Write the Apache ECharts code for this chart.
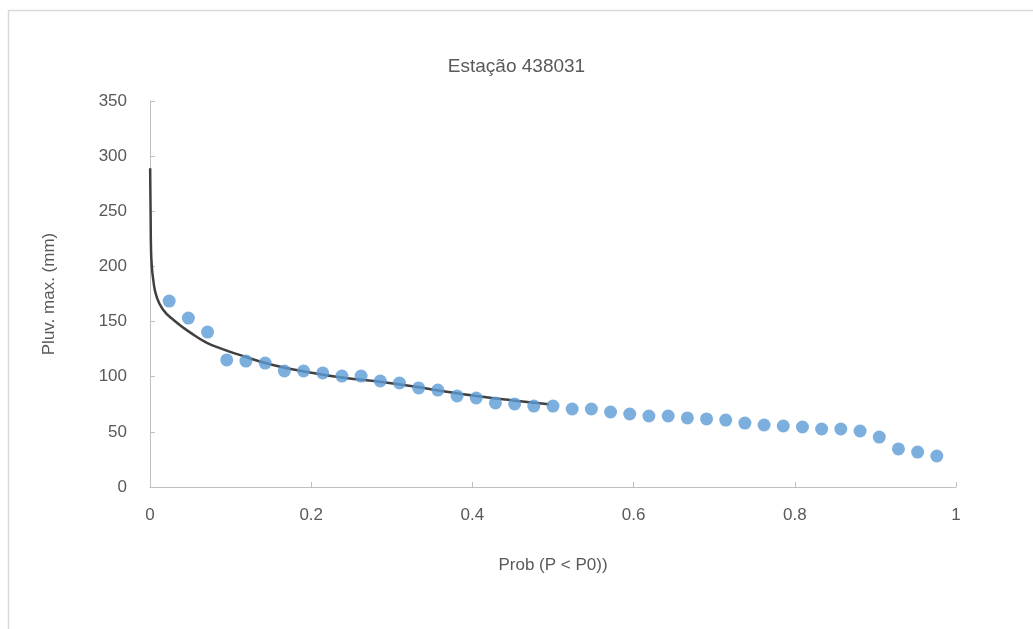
<!DOCTYPE html>
<html>
<head>
<meta charset="utf-8">
<script src="https://cdn.jsdelivr.net/npm/echarts@6/dist/echarts.min.js"></script>
<style>html,body{margin:0;padding:0;background:#fff;}#c{width:1033px;height:629px;}</style>
</head>
<body>
<div id="c"></div>
<script>
// Observed data (plotting positions and max rainfall)
var probObs = [0.0238, 0.0476, 0.0714, 0.0952, 0.119, 0.1429, 0.1667, 0.1905, 0.2143, 0.2381,
  0.2619, 0.2857, 0.3095, 0.3333, 0.3571, 0.381, 0.4048, 0.4286, 0.4524, 0.4762,
  0.5, 0.5238, 0.5476, 0.5714, 0.5952, 0.619, 0.6429, 0.6667, 0.6905, 0.7143,
  0.7381, 0.7619, 0.7857, 0.8095, 0.8333, 0.8571, 0.881, 0.9048, 0.9286, 0.9524, 0.9762];
var pluvObs = [168.6, 153.2, 140.5, 115.2, 114.2, 112.4, 105.2, 105.2, 103.4, 100.6,
  100.6, 96.1, 94.3, 89.8, 87.9, 82.5, 80.7, 76.2, 75.3, 73.4,
  73.4, 70.7, 70.7, 68.0, 66.2, 64.4, 64.4, 62.6, 61.7, 60.7,
  58.0, 56.2, 55.3, 54.4, 52.6, 52.6, 50.8, 45.3, 34.5, 31.7, 28.1];
// Fitted curve
var probFit = [0.0002, 0.0004, 0.0008, 0.0012, 0.002, 0.004, 0.008, 0.016, 0.03, 0.05,
  0.07, 0.09, 0.11, 0.15, 0.19, 0.24, 0.29, 0.35, 0.41, 0.45, 0.495];
var pluvFit = [289, 272, 245, 218, 203, 188, 173, 161, 151, 140,
  131, 125, 120, 111, 105, 99, 95, 88.5, 82, 78.5, 75];

var titleText = 'Estação 438031';
var xName = 'Prob (P < P0))';
var yName = 'Pluv. max. (mm)';

var obs = probObs.map(function(p, i){ return [p, pluvObs[i]]; });
var fit = probFit.map(function(p, i){ return [p, pluvFit[i]]; });

var FONT = '"Liberation Sans", Arial, sans-serif';
var chart = echarts.init(document.getElementById('c'));
chart.setOption({
  animation: false,
  backgroundColor: '#ffffff',
  graphic: [{
    type: 'rect', left: 6, top: 8, silent: true,
    shape: { x: 0, y: 0, width: 1040, height: 640 },
    style: { fill: 'none', stroke: '#d9d9d9', lineWidth: 1.5 }
  }],
  title: {
    text: titleText, left: 'center', top: 52,
    textStyle: { fontFamily: FONT, fontSize: 19, fontWeight: 'normal', color: '#595959' }
  },
  grid: { left: 150, right: 77, top: 101, bottom: 142, containLabel: false },
  xAxis: {
    type: 'value', min: 0, max: 1, interval: 0.2,
    name: xName, nameLocation: 'middle', nameGap: 70,
    nameTextStyle: { fontFamily: FONT, fontSize: 17, color: '#595959' },
    axisLine: { show: true, lineStyle: { color: '#bfbfbf', width: 1 } },
    axisTick: { show: true, inside: true, length: 5, lineStyle: { color: '#bfbfbf' } },
    axisLabel: { fontFamily: FONT, fontSize: 17, color: '#595959', margin: 20,
      formatter: function(v){ return String(+v.toFixed(1)); } },
    splitLine: { show: false }
  },
  yAxis: {
    type: 'value', min: 0, max: 350, interval: 50,
    name: yName, nameLocation: 'middle', nameGap: 92,
    nameTextStyle: { fontFamily: FONT, fontSize: 17, color: '#595959' },
    axisLine: { show: true, lineStyle: { color: '#bfbfbf', width: 1 } },
    axisTick: { show: true, inside: true, length: 5, lineStyle: { color: '#bfbfbf' } },
    axisLabel: { fontFamily: FONT, fontSize: 17, color: '#595959', margin: 23 },
    splitLine: { show: false }
  },
  series: [{
    type: 'line', data: fit, smooth: true, showSymbol: false, z: 2,
    lineStyle: { color: '#404040', width: 2.5 }
  }, {
    type: 'scatter', data: obs, symbol: 'circle', symbolSize: 13, z: 3,
    itemStyle: { color: '#5b9bd5' }
  }]
});
</script>
</body>
</html>
